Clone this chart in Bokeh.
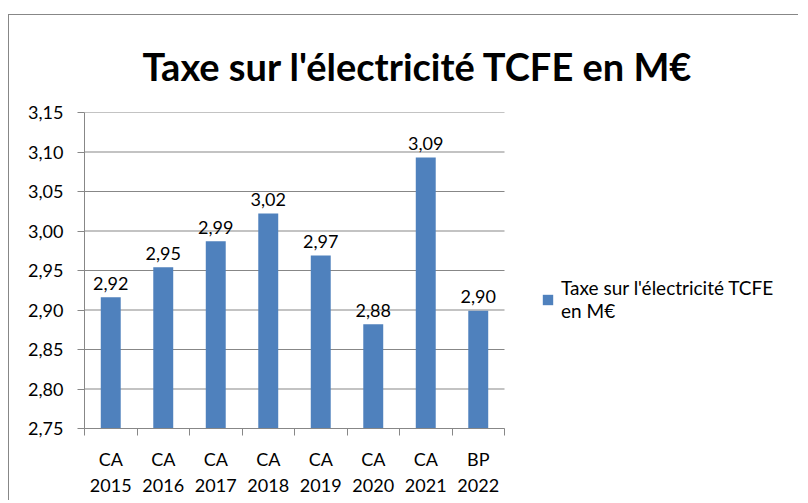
from bokeh.plotting import figure
from bokeh.models import (ColumnDataSource, Range1d, LinearAxis, Title,
                          FixedTicker, CustomJSTickFormatter, Legend, LegendItem)
from bokeh.core.properties import value
from bokeh.embed import file_html
from bokeh.resources import INLINE

# ---- data ----
categories = ["CA\n2015", "CA\n2016", "CA\n2017", "CA\n2018", "CA\n2019", "CA\n2020", "CA\n2021", "BP\n2022"]
values = [2.916, 2.954, 2.987, 3.022, 2.969, 2.882, 3.093, 2.899]
y_ticks = [2.75, 2.80, 2.85, 2.90, 2.95, 3.00, 3.05, 3.10, 3.15]
title_text = "Taxe sur l'électricité TCFE en M€"
series_name = "Taxe sur l'électricité TCFE\nen M€"

n = len(categories)
centers = [i + 0.5 for i in range(n)]
bounds = list(range(n + 1))
labels = [f"{v:.2f}".replace(".", ",") for v in values]
src = ColumnDataSource(dict(x=centers, val=values, lab=labels))
grid_src = ColumnDataSource(dict(x0=[0] * len(y_ticks), x1=[n] * len(y_ticks), y=y_ticks))

FONT = "Lato"
GRAY = "#878787"
BLUE = "#4F81BD"

W, H = 790, 486
LEFT = 75
BAR_AREA = 420                     # pixel width of the category area
frame_w = W - LEFT                 # frame extends to the right edge (room for the legend)
x_end = n * frame_w / BAR_AREA

p = figure(width=W, height=H, x_range=Range1d(0, x_end), y_range=Range1d(2.75, 3.15),
           output_backend="svg", toolbar_location=None, x_axis_location=None, y_axis_location=None,
           min_border_left=LEFT, min_border_right=0, min_border_top=97, min_border_bottom=73)
p.margin = (14, 0, 0, 8)
p.styles = {"border-top": f"1px solid {GRAY}", "border-left": f"1px solid {GRAY}"}
p.outline_line_color = None
p.background_fill_color = "white"
p.border_fill_color = "white"
p.xgrid.visible = False
p.ygrid.visible = False

# title
p.add_layout(Title(text=title_text, align="left", offset=58, standoff=48, text_font=FONT,
                   text_font_size="38px", text_font_style="bold", text_color="black"), "above")

# horizontal gridlines over the category area only
p.segment(x0="x0", x1="x1", y0="y", y1="y", source=grid_src, line_color=GRAY, line_width=1)

# y axis
yax = LinearAxis(ticker=FixedTicker(ticks=y_ticks),
                 formatter=CustomJSTickFormatter(code="return tick.toFixed(2).replace('.', ',');"))
yax.axis_line_color = GRAY
yax.major_tick_line_color = GRAY
yax.major_tick_out = 7
yax.major_tick_in = 0
yax.minor_tick_line_color = None
yax.major_label_text_font = FONT
yax.major_label_text_font_size = "18px"
yax.major_label_text_color = "black"
yax.major_label_standoff = 14
p.add_layout(yax, "left")

# x axis: labels at category centres, ticks at category boundaries
xax = LinearAxis(ticker=FixedTicker(ticks=centers, minor_ticks=bounds), bounds=(0, n),
                 major_label_overrides={c: lab for c, lab in zip(centers, categories)})
xax.axis_line_color = GRAY
xax.major_tick_line_color = None
xax.major_tick_out = 7
xax.major_tick_in = 0
xax.minor_tick_line_color = GRAY
xax.minor_tick_out = 7
xax.minor_tick_in = 0
xax.major_label_text_font = FONT
xax.major_label_text_font_size = "18px"
xax.major_label_text_color = "black"
xax.major_label_standoff = 12
p.add_layout(xax, "below")

bars = p.vbar(x="x", top="val", bottom=2.75, width=0.38, source=src,
              fill_color=BLUE, line_color=None)

p.text(x="x", y="val", text="lab", source=src, text_align="center", text_baseline="alphabetic",
       y_offset=-14, text_font=value(FONT), text_font_size="18px", text_color="black")

legend = Legend(items=[LegendItem(label=series_name, renderers=[bars])],
                location=(457, 106), glyph_width=13, glyph_height=13, label_standoff=7,
                label_text_font=FONT, label_text_font_size="19px", label_text_color="black",
                label_text_line_height=1.5,
                border_line_color=None, background_fill_alpha=0, padding=0, margin=0)
p.add_layout(legend)

open("out.html", "w").write(file_html(p, INLINE))
